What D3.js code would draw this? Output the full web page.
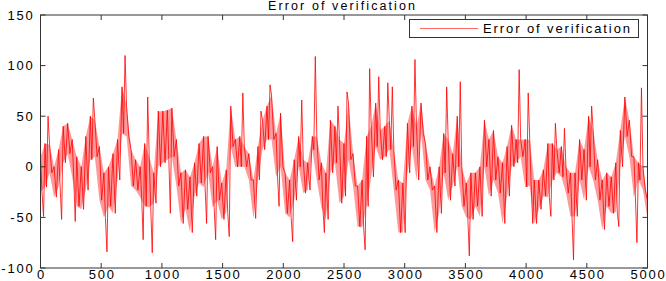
<!DOCTYPE html>
<html>
<head>
<meta charset="utf-8">
<script src="https://cdn.jsdelivr.net/npm/d3@7"></script>
<style>
  body { margin: 0; background: #fff; }
  text { font-family: Arial, "Liberation Sans", sans-serif; fill: #000; }
</style>
</head>
<body>
<div id="chart"></div>
<script>
    // Body of the noisy error band, read per ~4.5 px column: [high, low]
    const bandHigh = [
      10,23,22,0,17,40,43,27,10,0,30,50,46,20,-6,0,13,27,79,60,17,7,0,
      23,10,-6,55,55,56,58,27,-6,-3,-10,4,23,30,30,0,20,-16,-3,60,27,30,
      20,13,-13,20,46,60,71,33,53,-6,-13,7,30,7,4,30,30,4,-6,46,40,27,
      23,63,13,-19,-13,30,40,63,36,40,46,17,-13,-16,43,60,40,63,23,0,-19,0,33,
      27,13,50,0,-16,-6,-6,0,46,27,36,10,4,20,41,27,27,27,27,-13,-13,-3,
      23,23,17,20,0,-6,-6,27,17,50,36,7,-13,-6,-10,4,36,69,46,10,4,0,-33
    ];
    const bandLow = [
      -25,-20,-6,-30,-20,4,13,-10,-39,-42,-23,7,10,-33,-50,-39,-46,-13,33,30,-19,-23,-30,
      -39,-40,-36,0,4,7,10,-19,-56,-42,-65,-29,-16,-20,-6,-40,-33,-52,-45,20,0,0,
      0,-13,-51,-13,17,27,27,-10,0,-46,-50,-33,0,-26,-23,17,-13,-40,-52,-6,4,-36,
      -29,7,-19,-59,-60,-39,-10,20,7,10,17,-23,-65,-65,-6,20,-13,33,-13,-23,-65,-46,-6,
      -33,-19,0,-39,-50,-52,-39,-49,0,-29,-13,-26,-56,-29,0,4,10,-20,-19,-56,-42,-29,
      -30,-13,-6,-10,-26,-49,-49,-13,-33,0,-13,-33,-62,-39,-46,-45,0,30,10,-30,-13,-23,-52
    ];
    // Single-sample spikes that stick out of the band: [column, value]
    const spikes = [
      [0,-49],[1,50],[4,-52],[7,-54],[11,68],[14,-84],[18,110],[22,-72],
      [23,69],[24,-85],[28,-46],[36,-56],[38,-72],[41,-69],[44,73],
      [48,55],[50,81],[52,-39],[55,-74],[57,66],[60,109],[62,-65],[65,60],
      [67,74],[71,-82],[72,97],[74,89],[76,83],[77,79],[82,106],[89,79],
      [92,84],[94,-88],[105,96],[107,73],[108,-56],
      [112,-49],[113,43],[115,38],[117,-92],[121,60],[127,-59],[131,-75],[132,78]
    ];

    const xTicks = [0, 500, 1000, 1500, 2000, 2500, 3000, 3500, 4000, 4500, 5000];
    const yTicks = [-100, -50, 0, 50, 100, 150];
    const title = "Error of verification";
    const legendLabel = "Error of verification";

    // sample sequence: each column swings high then low, spikes dropped in after
    const nCols = bandHigh.length;
    const colWidth = 5000 / (nCols - 1);
    const spikeAt = new Map(spikes);
    const samples = [];
    bandHigh.forEach((hi, c) => {
      const lo = bandLow[c];
      const vals = spikeAt.has(c) ? [hi, lo, spikeAt.get(c)] : [hi, lo];
      vals.forEach((v, k) => samples.push({ t: Math.min(5000, (c + k / vals.length) * colWidth), v: v }));
    });
    const band = bandHigh.map((hi, c) => ({ t: c * colWidth, hi: hi, lo: bandLow[c] }));

    const margin = { top: 15, right: 18.5, bottom: 13, left: 40.5 };
    const width = 666 - margin.left - margin.right;
    const height = 281 - margin.top - margin.bottom;

    const svg = d3.select("#chart")
      .append("svg")
        .attr("width", 666)
        .attr("height", 281);

    const g = svg.append("g")
        .attr("transform", `translate(${margin.left},${margin.top})`);

    const x = d3.scaleLinear().domain([0, 5000]).range([0, width]);
    const y = d3.scaleLinear().domain([-100, 150]).range([height, 0]);

    // dense part of the trace (thousands of samples blur into a band)
    g.append("path")
      .datum(band)
      .attr("fill", "#ff2020")
      .attr("fill-opacity", 0.45)
      .attr("d", d3.area().x(d => x(d.t)).y0(d => y(d.lo)).y1(d => y(d.hi)));

    // the error line
    g.append("path")
      .datum(samples)
      .attr("fill", "none")
      .attr("stroke", "#ff0000")
      .attr("stroke-width", 0.8)
      .attr("stroke-linejoin", "bevel")
      .attr("d", d3.line().x(d => x(d.t)).y(d => y(d.v)));

    // box and inward ticks, matlab style
    const axisColor = "#333";
    g.append("rect")
      .attr("width", width).attr("height", height)
      .attr("fill", "none").attr("stroke", axisColor).attr("stroke-width", 1);

    const tl = 5;
    xTicks.forEach(t => {
      g.append("line").attr("x1", x(t)).attr("x2", x(t)).attr("y1", height).attr("y2", height - tl)
        .attr("stroke", axisColor);
      g.append("line").attr("x1", x(t)).attr("x2", x(t)).attr("y1", 0).attr("y2", tl)
        .attr("stroke", axisColor);
      g.append("text")
        .attr("x", x(t) + 1)
        .attr("y", height + 11)
        .attr("text-anchor", "middle")
        .style("font-size", "13px")
        .style("letter-spacing", "1.8px")
        .text(t);
    });

    yTicks.forEach(t => {
      g.append("line").attr("x1", 0).attr("x2", tl).attr("y1", y(t)).attr("y2", y(t))
        .attr("stroke", axisColor);
      g.append("line").attr("x1", width).attr("x2", width - tl).attr("y1", y(t)).attr("y2", y(t))
        .attr("stroke", axisColor);
      g.append("text")
        .attr("x", -6)
        .attr("y", y(t) + 4.5)
        .attr("text-anchor", "end")
        .style("font-size", "13px")
        .style("letter-spacing", "1.8px")
        .text(t);
    });

    // title
    svg.append("text")
      .attr("x", 268)
      .attr("y", 9.5)
      .attr("textLength", 147)
      .attr("lengthAdjust", "spacing")
      .style("font-size", "12.5px")
      .text(title);

    // legend
    const lg = svg.append("g");
    lg.append("rect")
      .attr("x", 409.5).attr("y", 19.5).attr("width", 229).attr("height", 18)
      .attr("fill", "#fff").attr("stroke", axisColor);
    lg.append("line")
      .attr("x1", 420).attr("x2", 478).attr("y1", 28.5).attr("y2", 28.5)
      .attr("stroke", "#ff0000").attr("stroke-width", 0.6);
    lg.append("text")
      .attr("x", 483)
      .attr("y", 33)
      .attr("textLength", 147)
      .attr("lengthAdjust", "spacing")
      .style("font-size", "13px")
      .text(legendLabel);
</script>
</body>
</html>
